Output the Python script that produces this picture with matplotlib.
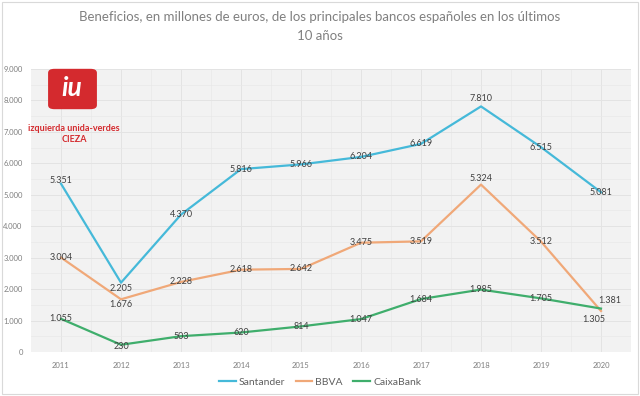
import matplotlib
matplotlib.use("Agg")
import matplotlib.pyplot as plt
from matplotlib.patches import FancyBboxPatch, Rectangle
from matplotlib.ticker import FuncFormatter, MultipleLocator

years = ["2011", "2012", "2013", "2014", "2015", "2016", "2017", "2018", "2019", "2020"]
santander = [5351, 2205, 4370, 5816, 5966, 6204, 6619, 7810, 6515, 5081]
bbva = [3004, 1676, 2228, 2618, 2642, 3475, 3519, 5324, 3512, 1305]
caixabank = [1055, 230, 503, 620, 814, 1047, 1684, 1985, 1705, 1381]

COLORS = {"Santander": "#45b9d9", "BBVA": "#f0a878", "CaixaBank": "#3fae6c"}

# label offsets in points (dx, dy); default is centered on the point
OFFSETS = {
    ("Santander", 0): (0, 2),
    ("Santander", 1): (0, -4),
    ("Santander", 7): (0, 6),
    ("BBVA", 1): (0, -4),
    ("BBVA", 7): (0, 4.5),
    ("BBVA", 9): (-5, -6.5),
    ("CaixaBank", 1): (0, -1),
    ("CaixaBank", 9): (6, 6),
}


def fmt(v):
    return f"{v:,.0f}".replace(",", ".")


def main() -> None:
    plt.rcParams["font.family"] = ["Lato", "DejaVu Sans"]
    fig = plt.figure(figsize=(6.4, 3.96), dpi=100)
    fig.patch.set_facecolor("white")
    fig.patches.append(Rectangle((0.003, 0.005), 0.994, 0.99, transform=fig.transFigure,
                                 fill=False, edgecolor="#d9d9d9", linewidth=0.8))

    ax = fig.add_axes([31 / 640, 1 - 352 / 396, 600 / 640, 283 / 396])
    ax.set_facecolor("#f2f2f2")
    for s in ax.spines.values():
        s.set_visible(False)

    x = list(range(len(years)))
    series = [("Santander", santander), ("BBVA", bbva), ("CaixaBank", caixabank)]
    for name, vals in series:
        ax.plot(x, vals, color=COLORS[name], linewidth=1.6, label=name, zorder=3)
        for i, v in enumerate(vals):
            dx, dy = OFFSETS.get((name, i), (0, 0))
            ax.annotate(fmt(v), (i, v), xytext=(dx, dy), textcoords="offset points",
                        ha="center", va="center", fontsize=6.5, color="#404040", zorder=4)

    ax.set_xlim(-0.5, len(years) - 0.5)
    ax.set_ylim(0, 9000)
    ax.set_xticks(x)
    ax.set_xticklabels(years)
    ax.yaxis.set_major_locator(MultipleLocator(1000))
    ax.yaxis.set_minor_locator(MultipleLocator(500))
    ax.set_xticks([i + 0.5 for i in x[:-1]], minor=True)
    ax.yaxis.set_major_formatter(FuncFormatter(lambda v, p: fmt(v)))
    ax.tick_params(axis="both", which="both", length=0, labelsize=5.5, labelcolor="#7f7f7f")
    ax.tick_params(axis="x", pad=7)
    ax.tick_params(axis="y", pad=6)
    ax.grid(True, which="major", color="#e3e3e3", linewidth=0.7, zorder=0)
    ax.grid(True, which="minor", color="#e8e8e8", linewidth=0.5, zorder=0)
    ax.set_axisbelow(True)

    fig.text(0.5, 1 - 17 / 396, "Beneficios, en millones de euros, de los principales bancos españoles en los últimos",
             ha="center", va="center", fontsize=9.5, color="#808080")
    fig.text(0.5, 1 - 36 / 396, "10 años", ha="center", va="center", fontsize=9.5, color="#808080")

    fig.legend(loc="center", bbox_to_anchor=(0.5, 1 - 382 / 396), ncol=3, frameon=False,
               fontsize=7.5, handlelength=1.6, handletextpad=0.3, columnspacing=1.0,
               labelcolor="#606060")

    # logo
    red = "#d42a2e"
    fig.patches.append(FancyBboxPatch((50 / 640, 1 - 108 / 396), 45 / 640, 38 / 396,
                                      boxstyle="round,pad=0.003,rounding_size=0.01",
                                      transform=fig.transFigure, facecolor=red, edgecolor="none"))
    fig.text(72 / 640, 1 - 88 / 396, "iu", ha="center", va="center", fontsize=19,
             fontweight="bold", fontstyle="italic", color="white")
    fig.text(74 / 640, 1 - 128 / 396, "izquierda unida-verdes", ha="center", va="center",
             fontsize=6.5, fontweight="bold", color=red)
    fig.text(74 / 640, 1 - 139 / 396, "CIEZA", ha="center", va="center",
             fontsize=6.5, fontweight="bold", color=red)

    fig.savefig("out.png", dpi=100)


if __name__ == "__main__":
    main()
